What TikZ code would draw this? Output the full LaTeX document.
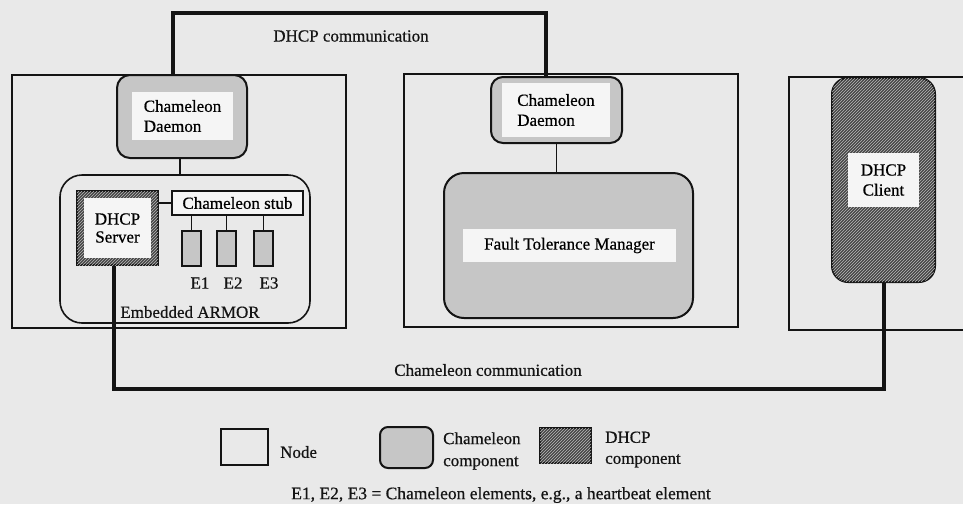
\documentclass[tikz,border=0pt]{standalone}
\usepackage{fontspec}
\setmainfont[FakeBold=0.6]{Liberation Serif}
\usetikzlibrary{patterns}
\definecolor{bg}{RGB}{233,233,233}
\definecolor{cham}{RGB}{198,198,198}
\definecolor{lbl}{RGB}{245,245,245}
\definecolor{dhcpc}{RGB}{70,70,70}
\definecolor{hatchc}{RGB}{185,185,185}
\definecolor{ink}{RGB}{20,20,20}
\begin{document}
\begin{tikzpicture}[x=1pt,y=-1pt,
  font=\fontsize{17}{20}\selectfont,
  nodebox/.style={draw=ink, line width=1.6pt, inner sep=0pt},
  chambox/.style={draw=ink, line width=2pt, fill=cham, inner sep=0pt},
  dhcpbox/.style={draw=ink, line width=1.5pt, fill=dhcpc, inner sep=0pt,
    postaction={pattern=north east lines, pattern color=hatchc}},
  lblbox/.style={fill=lbl, inner sep=0pt, align=center},
  armorbox/.style={draw=ink, line width=1.6pt, rounded corners=22pt, inner sep=0pt},
  stubbox/.style={draw=ink, line width=1.6pt, fill=lbl, inner sep=0pt},
  comm/.style={draw=ink, line width=3.6pt},
  wire/.style={draw=ink, line width=1.6pt},
  txt/.style={inner sep=0pt, align=center, text=ink}]
\clip (0,0) rectangle (963,504);
\fill[bg] (0,0) rectangle (963,504);

% nodes (machines)
\node[nodebox, minimum width=334pt, minimum height=253pt] (n1) at (179,201.5) {};
\node[nodebox, minimum width=334pt, minimum height=253pt] (n2) at (571,200.5) {};
\node[nodebox, minimum width=260pt, minimum height=253pt] (n3) at (919,203.5) {};

% left node contents
\node[chambox, rounded corners=13pt, minimum width=130pt, minimum height=83pt] (ld) at (182,116.5) {};
\node[lblbox, minimum width=101pt, minimum height=48pt, align=left] (ldl) at (182.5,116) {Chameleon\\Daemon};
\node[armorbox, minimum width=250pt, minimum height=148pt] (armor) at (185,249) {};
\node[txt] (armorl) at (190,312) {Embedded ARMOR};
\node[dhcpbox, minimum width=81pt, minimum height=74pt] (srv) at (117.5,228) {};
\node[fill=lbl, inner sep=0pt, minimum width=67pt, minimum height=60pt, align=center,
  font=\fontsize{17}{18}\selectfont] (srvl) at (117.5,228) {DHCP\\Server};
\node[stubbox, minimum width=131pt, minimum height=24pt] (stub) at (237.5,203) {Chameleon stub};
\node[chambox, line width=1.6pt, minimum width=19pt, minimum height=35pt] (e1) at (191.5,248.5) {};
\node[chambox, line width=1.6pt, minimum width=19pt, minimum height=35pt] (e2) at (226.5,248.5) {};
\node[chambox, line width=1.6pt, minimum width=19pt, minimum height=35pt] (e3) at (263.5,248.5) {};
\node[txt] (e1l) at (200,283) {E1};
\node[txt] (e2l) at (233,283) {E2};
\node[txt] (e3l) at (269,283) {E3};

% center node contents
\node[chambox, rounded corners=12pt, minimum width=131pt, minimum height=66pt] (cd) at (556.5,110) {};
\node[lblbox, minimum width=108pt, minimum height=54pt, align=left] (cdl) at (556,110) {Chameleon\\Daemon};
\node[chambox, rounded corners=20pt, minimum width=249pt, minimum height=145pt] (ftm) at (568.5,245.5) {};
\node[lblbox, minimum width=213pt, minimum height=33pt] (ftml) at (569.5,245.5) {Fault Tolerance Manager};

% right node contents
\node[dhcpbox, line width=2pt, rounded corners=16pt, minimum width=103pt, minimum height=204pt] (cl) at (883.5,180) {};
\node[lblbox, minimum width=71pt, minimum height=54pt] (cll) at (883.5,180) {DHCP\\Client};

% connectors
\draw[wire] (ld.south -| 180,0) -- (armor.north -| 180,0);
\draw[wire] (cd.south) -- (cd.south |- ftm.north);
\draw[wire] (stub.west) -- (stub.west -| srv.east);
\draw[wire] (e1.north) -- (e1.north |- stub.south);
\draw[wire] (e2.north) -- (e2.north |- stub.south);
\draw[wire] (e3.north) -- (e3.north |- stub.south);

% communication lines
\coordinate (t1) at (173,13);
\coordinate (t2) at (546,13);
\draw[comm, line join=miter] (ld.north -| t1) -- (t1) -- (t2) -- (cd.north -| t2);
\node[txt] (dhcpcomm) at (351,36) {DHCP communication};
\coordinate (b1) at (114,389);
\coordinate (b2) at (884,389);
\draw[comm, line width=4.2pt, line join=miter] (srv.south -| b1) -- (b1) -- (b2) -- (cl.south -| b2);
\node[txt] (chcomm) at (488,370) {Chameleon communication};

% legend
\node[nodebox, minimum width=47pt, minimum height=36pt] (lgn) at (244.5,447) {};
\node[txt, anchor=west] (lgnt) at (280,452) {Node};
\node[chambox, rounded corners=8pt, minimum width=53pt, minimum height=41pt] (lgc) at (406.5,447.5) {};
\node[txt, anchor=west, align=left, font=\fontsize{17}{22}\selectfont] (lgct) at (443,451) {Chameleon\\component};
\node[dhcpbox, minimum width=51pt, minimum height=35pt] (lgd) at (565.5,445.5) {};
\node[txt, anchor=west, align=left, font=\fontsize{17}{21}\selectfont] (lgdt) at (605,449.5) {DHCP\\component};
\node[txt, font=\fontsize{17.5}{20}\selectfont] (note) at (501,495) {E1, E2, E3 = Chameleon elements, e.g., a heartbeat element};
\end{tikzpicture}
\end{document}
